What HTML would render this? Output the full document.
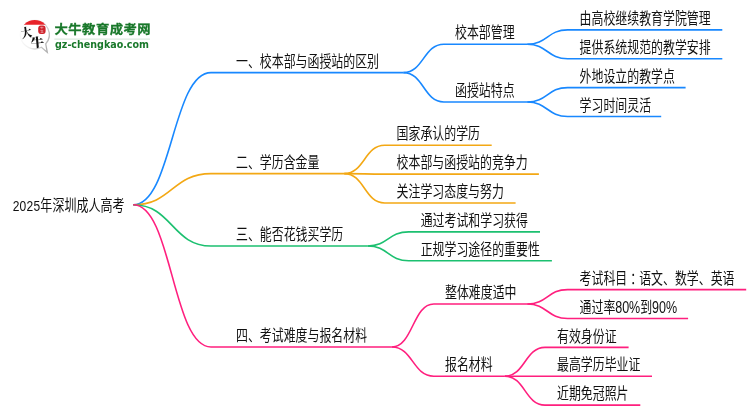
<!DOCTYPE html>
<html lang="zh-CN">
<head>
<meta charset="utf-8">
<title>2025年深圳成人高考</title>
<style>
html,body{margin:0;padding:0;background:#fff;}
body{width:750px;height:410px;overflow:hidden;}
svg{display:block;will-change:transform;}
</style>
</head>
<body>
<svg width="750" height="410" viewBox="0 0 750 410">
<rect width="750" height="410" fill="#fff"/>
<g fill="none" stroke="#1888ff" stroke-width="1.6" stroke-linecap="butt" stroke-linejoin="round">
<path d="M133.20,204.80C172.10,204.80 172.10,72.60 211.00,72.60H403.40"/>
<path d="M403.40,72.60C423.60,72.60 423.60,44.20 443.80,44.20H527.20"/>
<path d="M527.20,44.20C547.40,44.20 547.40,29.90 567.60,29.90H722.30"/>
<path d="M527.20,44.20C547.40,44.20 547.40,58.80 567.60,58.80H722.30"/>
<path d="M403.40,72.60C423.60,72.60 423.60,102.00 443.80,102.00H527.20"/>
<path d="M527.20,102.00C547.40,102.00 547.40,87.60 567.60,87.60H685.60"/>
<path d="M527.20,102.00C547.40,102.00 547.40,116.45 567.60,116.45H661.20"/>
</g>
<g fill="none" stroke="#f3a814" stroke-width="1.6" stroke-linecap="butt" stroke-linejoin="round">
<path d="M133.20,204.80C172.10,204.80 172.10,173.60 211.00,173.60H344.30"/>
<path d="M344.30,173.60C364.45,173.60 364.45,145.30 384.60,145.30H491.70"/>
<path d="M344.30,173.60C364.45,173.60 364.45,174.15 384.60,174.15H538.90"/>
<path d="M344.30,173.60C364.45,173.60 364.45,203.00 384.60,203.00H515.60"/>
</g>
<g fill="none" stroke="#1cc070" stroke-width="1.6" stroke-linecap="butt" stroke-linejoin="round">
<path d="M133.20,204.80C172.10,204.80 172.10,246.00 211.00,246.00H367.70"/>
<path d="M367.70,246.00C388.20,246.00 388.20,231.90 408.70,231.90H540.00"/>
<path d="M367.70,246.00C388.20,246.00 388.20,260.80 408.70,260.80H551.90"/>
</g>
<g fill="none" stroke="#ff1f7e" stroke-width="1.6" stroke-linecap="butt" stroke-linejoin="round">
<path d="M133.20,204.80C172.10,204.80 172.10,347.00 211.00,347.00H391.90"/>
<path d="M391.90,347.00C412.85,347.00 412.85,304.00 433.80,304.00H527.20"/>
<path d="M527.20,304.00C547.40,304.00 547.40,289.60 567.60,289.60H746.20"/>
<path d="M527.20,304.00C547.40,304.00 547.40,318.50 567.60,318.50H688.10"/>
<path d="M391.90,347.00C412.85,347.00 412.85,376.20 433.80,376.20H504.90"/>
<path d="M504.90,376.20C524.95,376.20 524.95,347.40 545.00,347.40H628.60"/>
<path d="M504.90,376.20C524.95,376.20 524.95,376.20 545.00,376.20H652.00"/>
<path d="M504.90,376.20C524.95,376.20 524.95,405.10 545.00,405.10H640.30"/>
</g>
<g font-family="'Liberation Sans','Noto Sans CJK SC',sans-serif" font-size="15.4" fill="#111">
<text transform="translate(12.7,211.1) scale(0.7812,1)"><tspan letter-spacing="0.3">2025</tspan>年深圳成人高考</text>
<text transform="translate(236.00,67.00) scale(0.7740,1)">一、校本部与函授站的区别</text>
<text transform="translate(455.00,38.40) scale(0.7740,1)">校本部管理</text>
<text transform="translate(579.60,24.00) scale(0.7740,1)">由高校继续教育学院管理</text>
<text transform="translate(579.60,52.90) scale(0.7740,1)">提供系统规范的教学安排</text>
<text transform="translate(455.00,96.20) scale(0.7740,1)">函授站特点</text>
<text transform="translate(579.60,81.70) scale(0.7740,1)">外地设立的教学点</text>
<text transform="translate(579.60,110.55) scale(0.7740,1)">学习时间灵活</text>
<text transform="translate(236.00,168.00) scale(0.7740,1)">二、学历含金量</text>
<text transform="translate(396.60,139.40) scale(0.7740,1)">国家承认的学历</text>
<text transform="translate(396.60,168.25) scale(0.7740,1)">校本部与函授站的竞争力</text>
<text transform="translate(396.60,197.10) scale(0.7740,1)">关注学习态度与努力</text>
<text transform="translate(236.00,240.40) scale(0.7740,1)">三、能否花钱买学历</text>
<text transform="translate(420.70,226.00) scale(0.7740,1)">通过考试和学习获得</text>
<text transform="translate(420.70,254.90) scale(0.7740,1)">正规学习途径的重要性</text>
<text transform="translate(236.00,341.40) scale(0.7740,1)">四、考试难度与报名材料</text>
<text transform="translate(445.00,298.20) scale(0.7740,1)">整体难度适中</text>
<text transform="translate(579.60,283.70) scale(0.7740,1)">考试科目<tspan dx="4">：</tspan><tspan dx="-4">语</tspan>文、数学、英语</text>
<text transform="translate(579.60,312.60) scale(0.7740,1)">通过率<tspan font-size="16.2" letter-spacing="-0.1">80%</tspan>到<tspan font-size="16.2" letter-spacing="-0.1">90%</tspan></text>
<text transform="translate(445.00,370.40) scale(0.7740,1)">报名材料</text>
<text transform="translate(557.00,341.50) scale(0.7740,1)">有效身份证</text>
<text transform="translate(557.00,370.30) scale(0.7740,1)">最高学历毕业证</text>
<text transform="translate(557.00,399.20) scale(0.7740,1)">近期免冠照片</text>
</g>
<g id="logo">
<defs>
<clipPath id="capclip"><rect x="18" y="18" width="34" height="6.8"/></clipPath>
<linearGradient id="bub" x1="0" y1="0.2" x2="1" y2="0.7">
<stop offset="0" stop-color="#fcfcfc"/><stop offset="0.5" stop-color="#f0f0f0"/><stop offset="0.85" stop-color="#c4c4c4"/><stop offset="1" stop-color="#b0b0b0"/>
</linearGradient>
</defs>
<path d="M34.7,20.1A14.4,14.4 0 1 0 41.4,47.25L47.3,52.4L45.7,43.9A14.4,14.4 0 0 0 34.7,20.1Z" fill="#fff" stroke="url(#bub)" stroke-width="1.3"/>
<circle cx="34.7" cy="34.5" r="14.4" fill="#e8232a" clip-path="url(#capclip)"/>
<g font-family="'Noto Serif CJK SC','Liberation Serif',serif" font-weight="900" fill="#111">
<text transform="translate(21.8,38.2) rotate(-10) scale(0.88,1)" font-size="12.5">大</text>
<text transform="translate(31,47.5) rotate(-5) scale(1.05,0.95)" font-size="13">牛</text>
</g>
<rect x="38.2" y="25.4" width="7.4" height="8.6" rx="2.6" ry="3" fill="#cf222b"/>
<path d="M40.1,27.6h3.4M41.8,26.6v2.6M40.3,30.6l3,0.3M40.6,32.4h2.9M42,30v2.8" fill="none" stroke="#fff" stroke-opacity="0.6" stroke-width="0.6"/>
<text transform="translate(54.5,33.9) scale(1.075,1)" font-family="'Liberation Sans','Noto Sans CJK SC',sans-serif" font-weight="bold" font-size="12.4" letter-spacing="0.45" fill="#19782a" stroke="#19782a" stroke-width="0.3">大牛教育成考网</text>
<rect x="54.3" y="38.6" width="95.7" height="1" fill="#d3e4d6"/>
<text x="55" y="47.5" font-family="'DejaVu Sans','Liberation Sans',sans-serif" font-weight="bold" font-size="11.3" fill="#19782a" textLength="94" lengthAdjust="spacingAndGlyphs">gz-chengkao.com</text>
</g>

</svg>
</body>
</html>
